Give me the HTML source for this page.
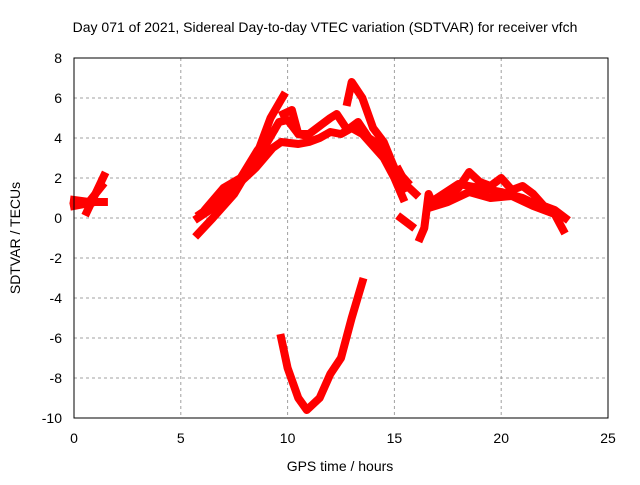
<!DOCTYPE html>
<html><head><meta charset="utf-8"><style>
body{margin:0;background:#fff;}
svg text{font-family:"Liberation Sans",sans-serif;font-size:14px;fill:#000;}
</style></head><body>
<svg id="chart" width="640" height="480">
<rect x="0" y="0" width="640" height="480" fill="#fff"/>
<text x="325" y="32" text-anchor="middle">Day 071 of 2021, Sidereal Day-to-day VTEC variation (SDTVAR) for receiver vfch</text>
<text x="340" y="471" text-anchor="middle">GPS time / hours</text>
<text transform="translate(20,238) rotate(-90)" text-anchor="middle">SDTVAR / TECUs</text>
<g id="grid"></g><g id="series"></g>
<rect x="74" y="58" width="534" height="360" fill="none" stroke="#000" stroke-width="1"/>
</svg>
<script>
const xTicks=[0,5,10,15,20,25];
const yTicks=[8,6,4,2,0,-2,-4,-6,-8,-10];
const t1=[0,0.5,1,1.4], v1=[0.6,0.7,0.8,0.8];
const t2=[0.6,1.0,1.4], v2=[0.3,1.2,2.1];
const t3=[0,0.7,1.3], v3=[0.9,0.8,1.6];
const t4=[5.8,6.5,7.5,8.5,9.2,9.8], v4=[-0.8,0,1.2,3,5,6.1];
const t5=[5.8,6.5,7.5,8.5,9.3,9.7,10.5,11,11.5,12,12.5,13,13.5,14,14.5,15,15.4], v5=[0,0.5,1.5,2.5,3.5,3.8,3.7,3.8,4.0,4.3,4.2,4.5,4.2,3.6,3.0,2.0,1.0];
const t6=[5.9,7,8,9,9.6,10,10.5,11,11.5,12,12.3,12.8,13.3,13.8,14.5,15,15.5], v6=[0.2,1.0,2.2,3.7,4.8,4.9,4.2,4.2,4.6,5.0,5.2,4.4,4.8,4.0,3.5,2.5,1.5];
const t7=[9.8,10.2,10.5,10.9], v7=[5.2,5.4,4.2,4.1];
const t8=[12.8,13.0,13.5,14,14.5,15,15.6], v8=[5.8,6.8,6.0,4.5,3.8,2.5,1.8];
const t9=[15.3,15.8], v9=[0,-0.4];
const t10=[9.7,10,10.5,10.9,11.5,12,12.5,13,13.5], v10=[-6,-7.5,-9,-9.6,-9,-7.8,-7,-5,-3.2];
const t11=[16.2,16.4,16.6,16.8,17.5,18,18.5,19,19.5,20,20.5,21,21.5,22,22.5,23], v11=[-1,-0.5,1.2,0.7,1.1,1.5,2.3,1.8,1.6,2.0,1.4,1.6,1.2,0.6,0.4,0];
const t12=[16.6,17.5,18.5,19.5,20.5,21.5,22.5,22.9], v12=[0.5,0.8,1.3,1.0,1.1,0.6,0.2,-0.6];
const t13=[6.2,7.0,7.8,8.6,9.3], v13=[0.5,1.5,2.0,3.4,4.3];
const t14=[15.2,15.6,16.0], v14=[2.4,1.6,1.2];
const t15=[17,18,19,20,21,22], v15=[1.0,1.7,1.5,1.3,1.0,0.5];
const seriesT=[t1,t2,t3,t4,t5,t6,t7,t8,t9,t10,t11,t12,t13,t14,t15];
const seriesV=[v1,v2,v3,v4,v5,v6,v7,v8,v9,v10,v11,v12,v13,v14,v15];
const X=h=>74+h*(534/25), Y=v=>58+(8-v)*20;
const ns='http://www.w3.org/2000/svg';
const g=document.getElementById('grid'), s=document.getElementById('series'), svg=document.getElementById('chart');
xTicks.forEach(t=>{
 if(t>0&&t<25){const l=document.createElementNS(ns,'line');
 l.setAttribute('x1',X(t));l.setAttribute('x2',X(t));l.setAttribute('y1',58);l.setAttribute('y2',418);
 l.setAttribute('stroke','#a0a0a0');l.setAttribute('stroke-dasharray','3,3');
 
 g.appendChild(l);}
 const tx=document.createElementNS(ns,'text');tx.setAttribute('x',X(t));tx.setAttribute('y',443);tx.setAttribute('text-anchor','middle');tx.textContent=t;
 
 svg.appendChild(tx);
});
yTicks.forEach(t=>{
 if(t>-10&&t<8){const l=document.createElementNS(ns,'line');
 l.setAttribute('x1',74);l.setAttribute('x2',608);l.setAttribute('y1',Y(t));l.setAttribute('y2',Y(t));
 l.setAttribute('stroke','#a0a0a0');l.setAttribute('stroke-dasharray','3,3');
 
 g.appendChild(l);}
 const tx=document.createElementNS(ns,'text');tx.setAttribute('x',62);tx.setAttribute('y',Y(t)+5);tx.setAttribute('text-anchor','end');tx.textContent=t;
 
 svg.appendChild(tx);
});
seriesT.forEach((ts,i)=>{
 const vs=seriesV[i];
 const p=document.createElementNS(ns,'polyline');
 p.setAttribute('points',ts.map((t,j)=>X(t)+','+Y(vs[j])).join(' '));
 p.setAttribute('fill','none');p.setAttribute('stroke','#ff0000');p.setAttribute('stroke-width','8');
 p.setAttribute('stroke-linejoin','round');p.setAttribute('stroke-linecap','square');
 
 
 s.appendChild(p);
});
</script>
</body></html>
